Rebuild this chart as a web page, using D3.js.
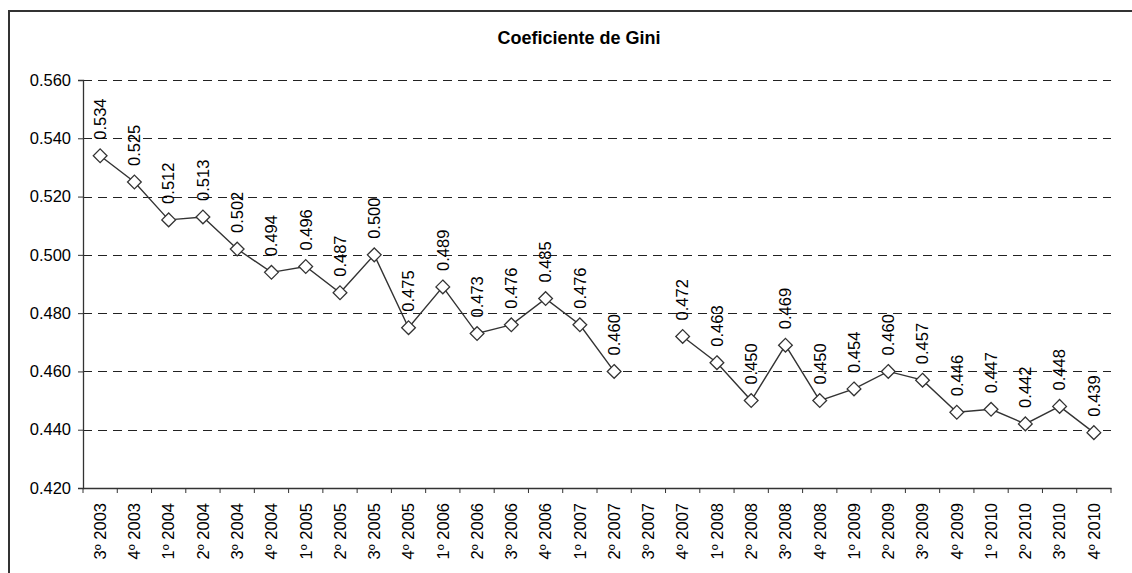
<!DOCTYPE html>
<html>
<head>
<meta charset="UTF-8">
<title>Coeficiente de Gini</title>
<script src="https://cdn.jsdelivr.net/npm/d3@7"></script>
<style>
    body { margin: 0; background: #fff; }
    svg text { font-family: 'Liberation Sans', Arial, sans-serif; fill: #000; }
</style>
</head>
<body>
<div id="chart"></div>
<script>
// data
const quarters = ["3º 2003","4º 2003",
    "1º 2004","2º 2004","3º 2004","4º 2004",
    "1º 2005","2º 2005","3º 2005","4º 2005",
    "1º 2006","2º 2006","3º 2006","4º 2006",
    "1º 2007","2º 2007","3º 2007","4º 2007",
    "1º 2008","2º 2008","3º 2008","4º 2008",
    "1º 2009","2º 2009","3º 2009","4º 2009",
    "1º 2010","2º 2010","3º 2010","4º 2010"];
const gini = [0.534,0.525,
    0.512,0.513,0.502,0.494,
    0.496,0.487,0.500,0.475,
    0.489,0.473,0.476,0.485,
    0.476,0.460,null,0.472,
    0.463,0.450,0.469,0.450,
    0.454,0.460,0.457,0.446,
    0.447,0.442,0.448,0.439];
const yTicks = [0.420,0.440,0.460,0.480,0.500,0.520,0.540,0.560];

const width = 1132, height = 573;
const margin = {left: 83, right: 21, top: 80, bottom: 85};

const svg = d3.select("#chart").append("svg")
    .attr("width", width)
    .attr("height", height);

// chart frame (runs off the bottom/right edge like the original)
svg.append("rect")
    .attr("x", 9).attr("y", 11)
    .attr("width", width + 10).attr("height", height + 10)
    .attr("fill", "none")
    .attr("stroke", "#333")
    .attr("stroke-width", 2);

svg.append("text")
    .attr("x", 579).attr("y", 44)
    .attr("text-anchor", "middle")
    .style("font-weight", "bold")
    .style("font-size", "18px")
    .text("Coeficiente de Gini");

const x = d3.scaleBand()
    .domain(quarters)
    .range([margin.left, width - margin.right]);

const y = d3.scaleLinear()
    .domain([0.42, 0.56])
    .range([height - margin.bottom, margin.top]);

const crisp = v => Math.round(v) + 0.5;

// dashed gridlines
svg.append("g")
    .selectAll("line")
    .data(yTicks.slice(1))
    .enter()
    .append("line")
    .attr("x1", margin.left).attr("x2", width - margin.right)
    .attr("y1", d => crisp(y(d))).attr("y2", d => crisp(y(d)))
    .attr("stroke", "#222")
    .attr("stroke-dasharray", "9,6");

const yAxis = svg.append("g")
    .attr("transform", `translate(${margin.left},0)`)
    .call(d3.axisLeft(y).tickValues(yTicks).tickFormat(d3.format(".3f")).tickSize(5).tickPadding(7));

const xAxis = svg.append("g")
    .attr("transform", `translate(0,${height - margin.bottom})`)
    .call(d3.axisBottom(x).tickValues([]).tickSizeOuter(0));

// ticks between categories
xAxis.selectAll(".sep")
    .data(d3.range(quarters.length + 1))
    .enter()
    .append("line")
    .attr("x1", i => margin.left + i * x.step())
    .attr("x2", i => margin.left + i * x.step())
    .attr("y1", 0).attr("y2", 5)
    .attr("stroke", "#333");

xAxis.selectAll(".lbl")
    .data(quarters)
    .enter()
    .append("text")
    .attr("transform", d => `translate(${x(d) + x.bandwidth() / 2},15) rotate(-90)`)
    .attr("dy", "0.35em")
    .attr("text-anchor", "end")
    .style("font-size", "16.5px")
    .text(d => d);

[yAxis, xAxis].forEach(g => {
    g.selectAll("path, line").attr("stroke", "#333");
    g.select(".domain").attr("stroke-width", 1.3);
});
yAxis.selectAll("text")
    .style("font-size", "16.5px")
    .style("font-family", "'Liberation Sans', Arial, sans-serif")
    .attr("fill", "#000");

const points = quarters.map((q, i) => ({q: q, v: gini[i]}));
const cx = d => x(d.q) + x.bandwidth() / 2;

const line = d3.line()
    .defined(d => d.v !== null)
    .x(cx)
    .y(d => y(d.v));

svg.append("path")
    .datum(points)
    .attr("d", line)
    .attr("fill", "none")
    .attr("stroke", "#333")
    .attr("stroke-width", 1.4);

const valid = points.filter(d => d.v !== null);

svg.append("g")
    .selectAll("path")
    .data(valid)
    .enter()
    .append("path")
    .attr("d", d3.symbol().type(d3.symbolDiamond2).size(120))
    .attr("transform", d => `translate(${cx(d)},${y(d.v)})`)
    .attr("fill", "#fff")
    .attr("stroke", "#333")
    .attr("stroke-width", 1.3);

svg.append("g")
    .selectAll("text")
    .data(valid)
    .enter()
    .append("text")
    .attr("transform", d => `translate(${cx(d)},${y(d.v) - 16}) rotate(-90)`)
    .attr("dy", "0.35em")
    .attr("text-anchor", "start")
    .style("font-size", "16.5px")
    .text(d => d3.format(".3f")(d.v));
</script>
</body>
</html>
